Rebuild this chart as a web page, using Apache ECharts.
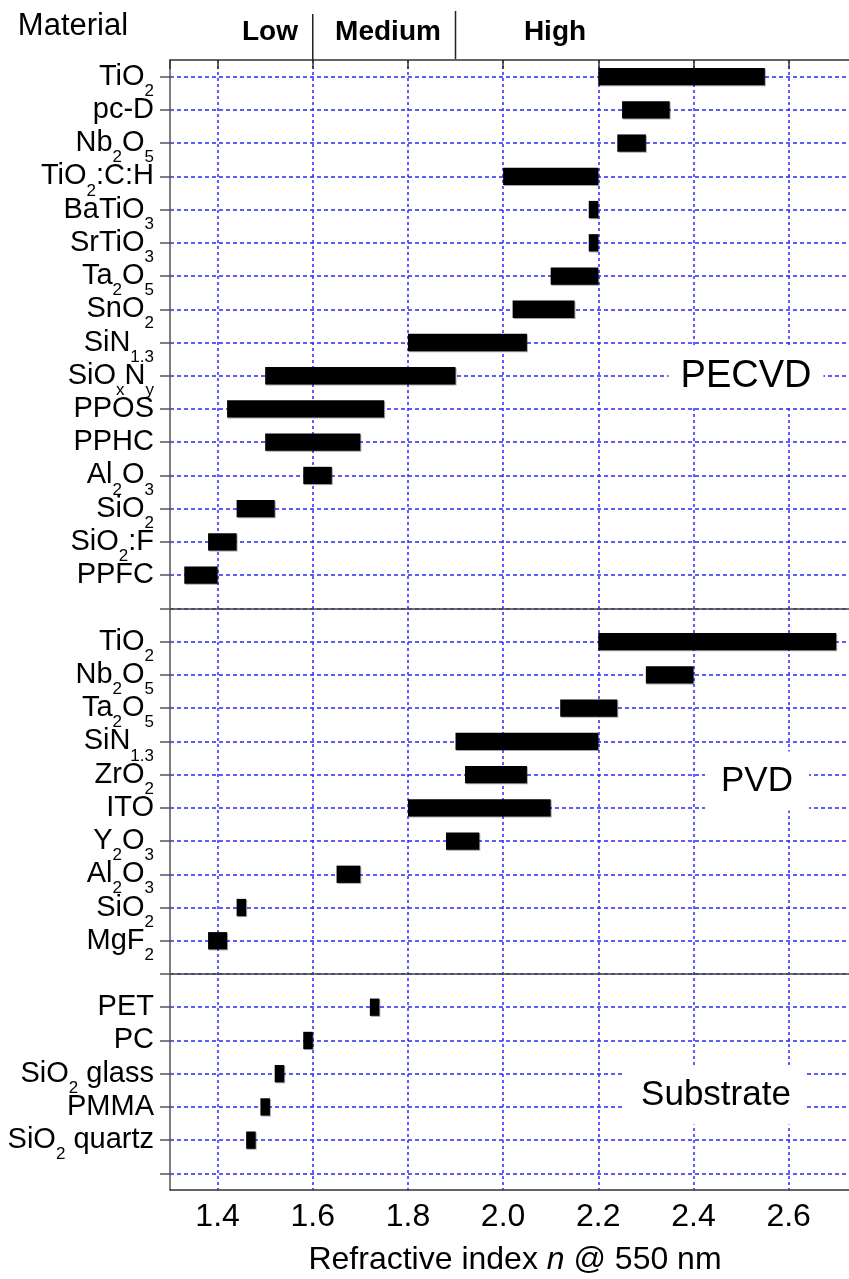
<!DOCTYPE html>
<html><head><meta charset="utf-8">
<script src="https://cdn.jsdelivr.net/npm/echarts@6/dist/echarts.min.js"></script>
<style>html,body{margin:0;padding:0;background:#fff}#c{width:849px;height:1279px}</style>
</head><body><div id="c"></div>
<script>
// ---- data ----
const pecvdNames = ['TiO{s|2}','pc-D','Nb{s|2}O{s|5}','TiO{s|2}:C:H','BaTiO{s|3}','SrTiO{s|3}','Ta{s|2}O{s|5}','SnO{s|2}','SiN{s|1.3}','SiO{s|x}N{s|y}','PPOS','PPHC','Al{s|2}O{s|3}','SiO{s|2}','SiO{s|2}:F','PPFC'];
const pecvdLow  = [2.20,2.25,2.24,2.00,2.18,2.18,2.10,2.02,1.80,1.50,1.42,1.50,1.58,1.44,1.38,1.33];
const pecvdHigh = [2.55,2.35,2.30,2.20,2.20,2.20,2.20,2.15,2.05,1.90,1.75,1.70,1.64,1.52,1.44,1.40];
const pvdNames = ['TiO{s|2}','Nb{s|2}O{s|5}','Ta{s|2}O{s|5}','SiN{s|1.3}','ZrO{s|2}','ITO','Y{s|2}O{s|3}','Al{s|2}O{s|3}','SiO{s|2}','MgF{s|2}'];
const pvdLow  = [2.20,2.30,2.12,1.90,1.92,1.80,1.88,1.65,1.44,1.38];
const pvdHigh = [2.70,2.40,2.24,2.20,2.05,2.10,1.95,1.70,1.46,1.42];
const subNames = ['PET','PC','SiO{s|2} glass','PMMA','SiO{s|2} quartz'];
const subLow  = [1.72,1.58,1.52,1.49,1.46];
const subHigh = [1.74,1.60,1.54,1.51,1.48];
const groupLabels = ['PECVD','PVD','Substrate'];
const levelNames = ['Low','Medium','High'];
const levelBounds = [1.6, 1.9];
const xMin = 1.3, xMax = 2.75;
const xTitle = 'Refractive index {i|n} @ 550 nm';

// ---- build categories ----
const categories = [].concat(pecvdNames, [''], pvdNames, [' '], subNames, ['  ']);
const bars = [];
const offPVD = pecvdNames.length + 1;
const offSub = offPVD + pvdNames.length + 1;
pecvdNames.forEach((n,i)=>bars.push([pecvdLow[i], pecvdHigh[i], i]));
pvdNames.forEach((n,i)=>bars.push([pvdLow[i], pvdHigh[i], offPVD + i]));
subNames.forEach((n,i)=>bars.push([subLow[i], subHigh[i], offSub + i]));
const dividers = [pecvdNames.length, offSub - 1];

const FONT = 'Liberation Sans, Arial, Helvetica, sans-serif';
const chart = echarts.init(document.getElementById('c'), null, {renderer:'canvas'});
const gridColor = '#2a2aff';

const option = {
  animation: false,
  backgroundColor: '#fff',
  grid: {left:170, top:60, width:690, height:1130, containLabel:false, outerBoundsMode:'none'},
  xAxis: [{
    type:'value', min:xMin, max:xMax, splitNumber:7, position:'bottom',
    axisLine:{show:true, onZero:false, lineStyle:{color:'#333', width:1.5}},
    axisTick:{show:false},
    axisLabel:{fontSize:32, fontFamily:FONT, color:'#000', margin:11,
      showMinLabel:false, showMaxLabel:false,
      formatter: v => (Math.abs(v*5 - Math.round(v*5)) < 1e-6 ? v.toFixed(1) : '')},
    splitLine:{show:true, showMinLine:false, showMaxLine:false, lineStyle:{color:gridColor, type:[3,3], width:1.5}},
    name: xTitle, nameLocation:'middle', nameGap:54,
    nameTextStyle:{fontSize:32, fontFamily:FONT, color:'#000', rich:{i:{fontStyle:'italic', fontSize:32, fontFamily:FONT, color:'#000'}}}
  },{
    type:'value', min:xMin, max:xMax, splitNumber:7, position:'top',
    axisLine:{show:true, onZero:false, lineStyle:{color:'#333', width:1.5}},
    axisTick:{show:true, inside:true, length:9, lineStyle:{color:'#333', width:1.5}},
    axisLabel:{show:false}, splitLine:{show:false}
  }],
  yAxis: {
    type:'category', inverse:true, data:categories, boundaryGap:true,
    axisLine:{show:true, lineStyle:{color:'#555', width:1.5}},
    axisTick:{show:true, alignWithLabel:true, interval:0, length:10, lineStyle:{color:'#555', width:1.5}},
    splitLine:{show:true, alignWithLabel:true, interval:0, lineStyle:{color:gridColor, type:[4,3], width:1.5}},
    axisLabel:{interval:0, fontSize:29, fontFamily:FONT, color:'#000', margin:16, hideOverlap:false,
      rich:{s:{fontSize:17, fontFamily:FONT, color:'#000', padding:[29,0,0,0]}}}
  },
  series: [{
    type:'custom', xAxisIndex:0, yAxisIndex:0, data:bars, encode:{x:[0,1], y:2}, z:5,
    renderItem: function(params, api){
      const row = api.value(2);
      const p0 = api.coord([api.value(0), row]);
      const p1 = api.coord([api.value(1), row]);
      const h = api.size([0,1])[1] * 0.52;
      return {type:'rect', shape:{x:p0[0], y:p0[1]-h/2, width:p1[0]-p0[0], height:h},
        style:{fill:'#000', shadowColor:'rgba(0,0,0,0.35)', shadowOffsetX:1, shadowOffsetY:1, shadowBlur:0}};
    }
  },{
    type:'line', data:[], xAxisIndex:0, yAxisIndex:0, silent:true,
    markLine:{silent:true, symbol:['none','none'], label:{show:false},
      lineStyle:{color:'#444', type:'solid', width:1.5},
      data: dividers.map(d=>({yAxis:d}))}
  }]
};
chart.setOption(option);

const xs = levelBounds.map(v => chart.convertToPixel({xAxisIndex:0}, v));
const graphics = [
  {type:'text', z:100, style:{text:'Material', x:73, y:26, align:'center', verticalAlign:'middle', textAlign:'center', textVerticalAlign:'middle', font:'31px '+FONT, fill:'#000'}},
  {type:'text', z:100, style:{text:levelNames[0], x:270, y:32, align:'center', verticalAlign:'middle', textAlign:'center', textVerticalAlign:'middle', font:'bold 28px '+FONT, fill:'#000'}},
  {type:'text', z:100, style:{text:levelNames[1], x:388, y:32, align:'center', verticalAlign:'middle', textAlign:'center', textVerticalAlign:'middle', font:'bold 28px '+FONT, fill:'#000'}},
  {type:'text', z:100, style:{text:levelNames[2], x:555, y:32, align:'center', verticalAlign:'middle', textAlign:'center', textVerticalAlign:'middle', font:'bold 28px '+FONT, fill:'#000'}},
  {type:'line', z:100, shape:{x1:xs[0], y1:14, x2:xs[0], y2:61}, style:{stroke:'#222', lineWidth:1.5}},
  {type:'line', z:100, shape:{x1:xs[1], y1:11, x2:xs[1], y2:59}, style:{stroke:'#222', lineWidth:1.5}},
  {type:'text', z:100, style:{text:groupLabels[0], x:746, y:377, align:'center', verticalAlign:'middle', textAlign:'center', textVerticalAlign:'middle', font:'38px '+FONT, fill:'#000', backgroundColor:'#fff', padding:[12,12]}},
  {type:'text', z:100, style:{text:groupLabels[1], x:757, y:781, align:'center', verticalAlign:'middle', textAlign:'center', textVerticalAlign:'middle', font:'35px '+FONT, fill:'#000', backgroundColor:'#fff', padding:[12,16]}},
  {type:'text', z:100, style:{text:groupLabels[2], x:716, y:1095, align:'center', verticalAlign:'middle', textAlign:'center', textVerticalAlign:'middle', font:'35px '+FONT, fill:'#000', backgroundColor:'#fff', padding:[12,16]}}
];
chart.setOption({graphic: graphics});
</script>
</body></html>
